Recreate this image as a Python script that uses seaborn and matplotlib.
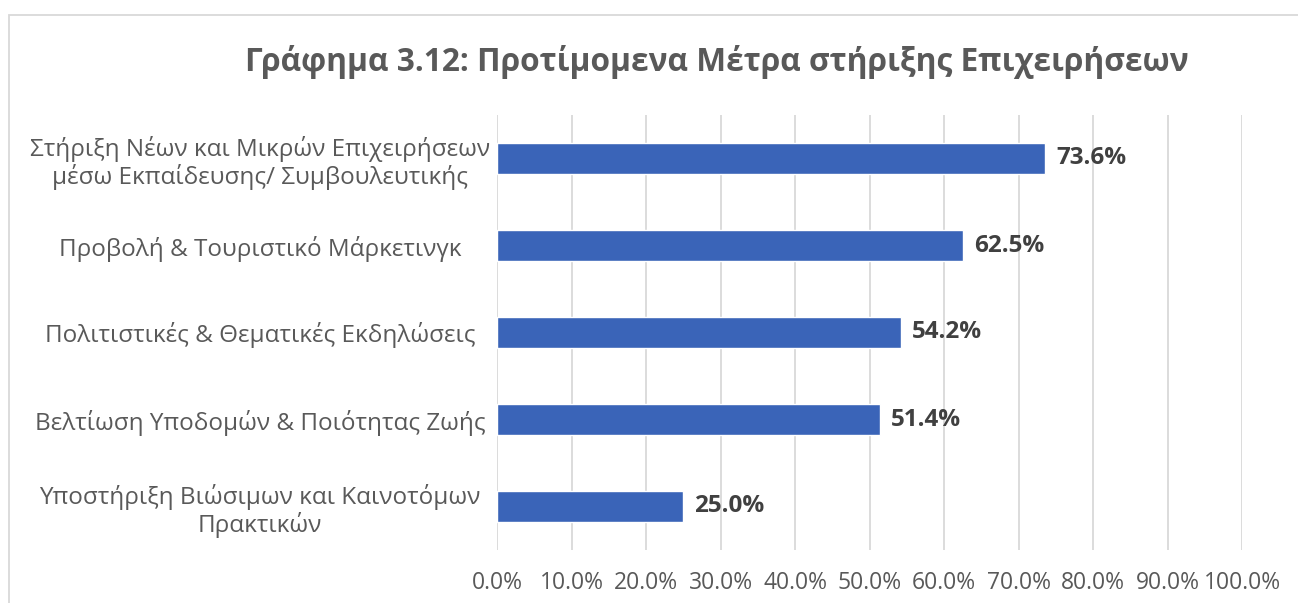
import pandas as pd
import matplotlib.pyplot as plt
import seaborn as sns
from matplotlib.patches import Rectangle

# data
categories = [
    'Στήριξη Νέων και Μικρών Επιχειρήσεων\nμέσω Εκπαίδευσης/ Συμβουλευτικής',
    'Προβολή & Τουριστικό Μάρκετινγκ',
    'Πολιτιστικές & Θεματικές Εκδηλώσεις',
    'Βελτίωση Υποδομών & Ποιότητας Ζωής',
    'Υποστήριξη Βιώσιμων και Καινοτόμων\nΠρακτικών',
]
values = [73.6, 62.5, 54.2, 51.4, 25.0]
x_ticks = [0, 10, 20, 30, 40, 50, 60, 70, 80, 90, 100]

df = pd.DataFrame({'measure': categories, 'pct': values})

sns.set_theme(style='white')
plt.rcParams['font.family'] = ['Open Sans', 'DejaVu Sans']
text_col = '#595959'
bar_col = '#3A64B8'

fig = plt.figure(figsize=(12.98, 6.03), dpi=100)
ax = fig.add_axes([497/1298, 1-550/603, (1242-497)/1298, (550-115)/603])

sns.barplot(data=df, x='pct', y='measure', color=bar_col, saturation=1,
            width=0.35, ax=ax, zorder=3)

ax.set_xlim(0, 100)
ax.set_xticks(x_ticks)
ax.set_xticklabels([f'{t:.1f}%' for t in x_ticks], fontsize=16.5, color=text_col)
ax.tick_params(axis='x', length=0, pad=15)
ax.tick_params(axis='y', length=0, pad=0)
for lab in ax.get_yticklabels():
    lab.set_fontsize(17.5)
    lab.set_color(text_col)
    lab.set_horizontalalignment('center')
    lab.set_multialignment('center')
    lab.set_linespacing(1.1)
    lab.set_x(-0.318)
ax.set_xlabel('')
ax.set_ylabel('')
ax.grid(axis='x', color='#D9D9D9', linewidth=1.3, zorder=0)
for s in ax.spines.values():
    s.set_visible(False)

for i, v in enumerate(values):
    ax.text(v + 1.5, i, f'{v:.1f}%', va='center', ha='left', fontsize=17.5,
            fontweight='bold', color='#404040')

fig.text(0.552, 1-62/603, 'Γράφημα 3.12: Προτίμομενα Μέτρα στήριξης Επιχειρήσεων',
         ha='center', va='center', fontsize=22.8, fontweight='bold', color=text_col)

# chart frame
fig.patches.append(Rectangle((9/1298, -0.05), 1.2, 1-15/603+0.05, transform=fig.transFigure,
                             fill=False, edgecolor='#D9D9D9', linewidth=1.3))

fig.savefig('out.png', dpi=100)
